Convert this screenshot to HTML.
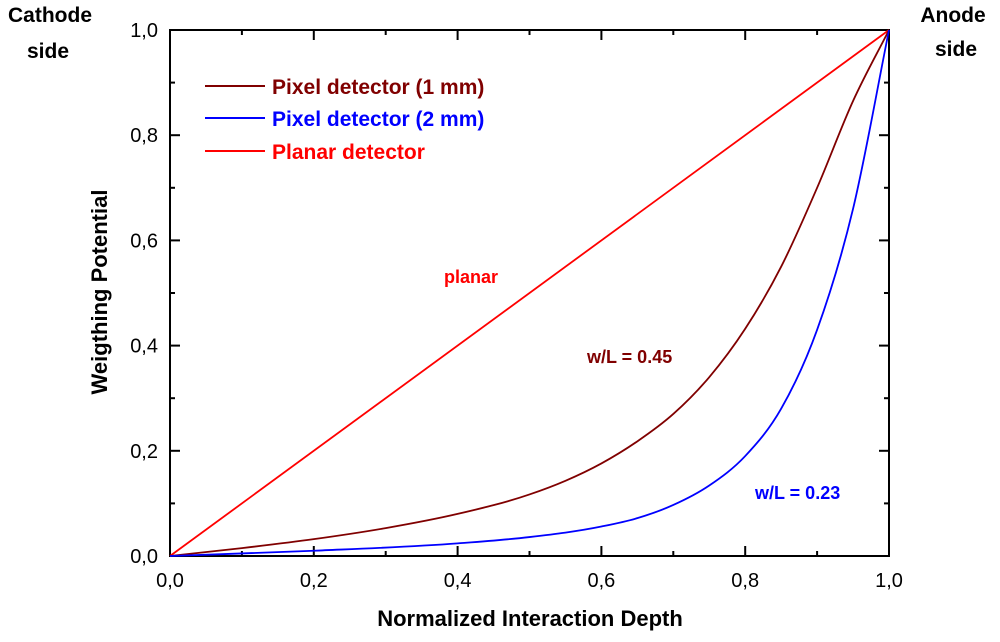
<!DOCTYPE html>
<html><head><meta charset="utf-8"><style>
body{margin:0;background:#fff;font-family:"Liberation Sans",Arial,sans-serif}
svg text{font-family:"Liberation Sans",Arial,sans-serif}
</style></head><body>
<svg id="chart" width="1000" height="637" viewBox="0 0 1000 637" xmlns="http://www.w3.org/2000/svg">
<rect width="1000" height="637" fill="#fff"/>
<g id="axes"></g>
<g id="series"></g>
<text x="50" y="22" text-anchor="middle" font-size="21" font-weight="bold">Cathode</text>
<text x="48" y="58" text-anchor="middle" font-size="21" font-weight="bold">side</text>
<text x="953" y="22" text-anchor="middle" font-size="21" font-weight="bold">Anode</text>
<text x="956" y="56" text-anchor="middle" font-size="21" font-weight="bold">side</text>
<text x="530" y="626" text-anchor="middle" font-size="22" font-weight="bold">Normalized Interaction Depth</text>
<text transform="translate(107,292) rotate(-90)" text-anchor="middle" font-size="22" font-weight="bold">Weigthing Potential</text>
<g>
<line x1="205" y1="86" x2="265" y2="86" stroke="#800000" stroke-width="2"/>
<text x="272" y="94" font-size="21" font-weight="bold" fill="#800000">Pixel detector (1 mm)</text>
<line x1="205" y1="118" x2="265" y2="118" stroke="#0000ff" stroke-width="2"/>
<text x="272" y="126" font-size="21" font-weight="bold" fill="#0000ff">Pixel detector (2 mm)</text>
<line x1="205" y1="151" x2="265" y2="151" stroke="#ff0000" stroke-width="2"/>
<text x="272" y="159" font-size="21" font-weight="bold" fill="#ff0000">Planar detector</text>
</g>
<text x="444" y="283" font-size="18" font-weight="bold" fill="#ff0000">planar</text>
<text x="587" y="363" font-size="18" font-weight="bold" fill="#800000">w/L = 0.45</text>
<text x="755" y="499" font-size="18" font-weight="bold" fill="#0000ff">w/L = 0.23</text>
</svg>
<script>
const xs1 = [0,0.1,0.2,0.3,0.4,0.5,0.55,0.6,0.65,0.7,0.75,0.8,0.85,0.9,0.95,1];
const pixel1mm = [0,0.015,0.032,0.053,0.08,0.117,0.143,0.176,0.218,0.27,0.34,0.432,0.55,0.70,0.865,1];
const xs2 = [0,0.2,0.4,0.5,0.6,0.65,0.7,0.75,0.8,0.85,0.9,0.95,1];
const pixel2mm = [0,0.01,0.024,0.036,0.056,0.072,0.097,0.134,0.19,0.28,0.43,0.66,1];
const xsP = [0,1];
const planar = [0,1];
const xTicks = ["0,0","0,2","0,4","0,6","0,8","1,0"];
const yTicks = ["0,0","0,2","0,4","0,6","0,8","1,0"];
const NS="http://www.w3.org/2000/svg";
const L=170,R=889,T=30,B=556;
const sx=v=>L+(R-L)*v, sy=v=>B-(B-T)*v;
function mk(tag,attrs,parent){const e=document.createElementNS(NS,tag);for(const k in attrs)e.setAttribute(k,attrs[k]);parent.appendChild(e);return e;}
const ax=document.getElementById('axes'), se=document.getElementById('series');
const frame=mk('rect',{x:L,y:T,width:R-L,height:B-T,fill:'none',stroke:'#000','stroke-width':2},ax);


for(let i=0;i<=10;i++){
  const v=i/10, maj=i%2===0, len=maj?10:5;
  const X=sx(v), Y=sy(v);
  [[X,B,X,B-len],[X,T,X,T+len],[L,Y,L+len,Y],[R,Y,R-len,Y]].forEach(c=>{
    const t=mk('line',{x1:c[0],y1:c[1],x2:c[2],y2:c[3],stroke:'#000','stroke-width':2},ax);
    
    
  });
}
xTicks.forEach((s,i)=>{
  const t=mk('text',{x:sx(i/5),y:B+31,'text-anchor':'middle','font-size':20},ax);t.textContent=s;
  
  
});
yTicks.forEach((s,i)=>{
  const t=mk('text',{x:L-12,y:sy(i/5)+7,'text-anchor':'end','font-size':20},ax);t.textContent=s;
  
  
});
// monotone cubic (Fritsch-Carlson) interpolation in data space
function path(xs,ys){
  const n=xs.length;
  if(n<3){return 'M'+sx(xs[0])+','+sy(ys[0])+' L'+sx(xs[n-1])+','+sy(ys[n-1]);}
  const d=[],m=[];
  for(let i=0;i<n-1;i++)d.push((ys[i+1]-ys[i])/(xs[i+1]-xs[i]));
  m[0]=d[0];m[n-1]=d[n-2];
  for(let i=1;i<n-1;i++){
    const h0=xs[i]-xs[i-1],h1=xs[i+1]-xs[i];
    m[i]=(d[i-1]*d[i]<=0)?0:(d[i-1]*h1+d[i]*h0)/(h0+h1);
  }
  for(let i=0;i<n-1;i++){
    if(d[i]===0){m[i]=0;m[i+1]=0;continue;}
    const a=m[i]/d[i],b=m[i+1]/d[i],s=a*a+b*b;
    if(s>9){const t=3/Math.sqrt(s);m[i]=t*a*d[i];m[i+1]=t*b*d[i];}
  }
  let p='M'+sx(xs[0])+','+sy(ys[0]);
  for(let i=0;i<n-1;i++){
    const h=xs[i+1]-xs[i];
    p+=' C'+sx(xs[i]+h/3)+','+sy(ys[i]+m[i]*h/3)+' '+sx(xs[i+1]-h/3)+','+sy(ys[i+1]-m[i+1]*h/3)+' '+sx(xs[i+1])+','+sy(ys[i+1]);
  }
  return p;
}
const s1=mk('path',{d:path(xsP,planar),fill:'none',stroke:'#ff0000','stroke-width':1.8},se);


const s2=mk('path',{d:path(xs1,pixel1mm),fill:'none',stroke:'#800000','stroke-width':1.8},se);


const s3=mk('path',{d:path(xs2,pixel2mm),fill:'none',stroke:'#0000ff','stroke-width':1.8},se);


</script>
</body></html>
